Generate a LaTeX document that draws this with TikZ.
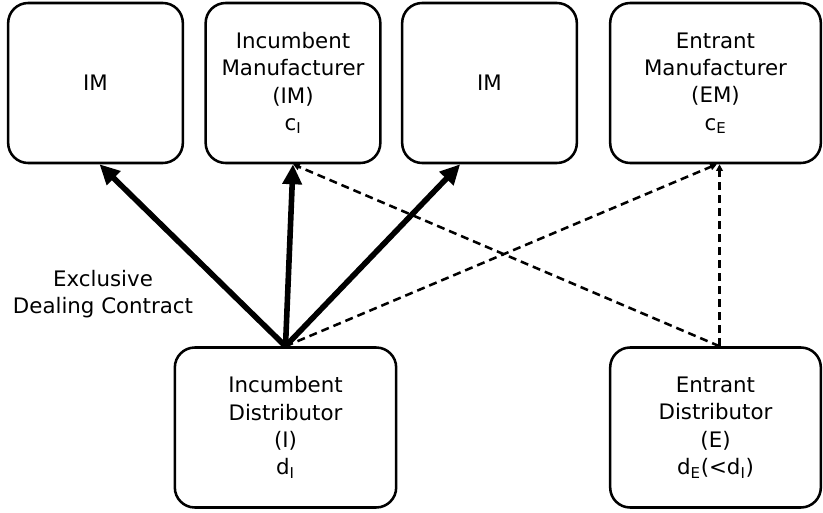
\documentclass[tikz,border=0pt]{standalone}
\usepackage{fontspec}
\setmainfont{DejaVu Sans}
\usetikzlibrary{arrows.meta}

\begin{document}
\begin{tikzpicture}[x=0.75pt,y=-0.75pt,line cap=butt]
	\tikzstyle{firm}=[draw,line width=1.9pt,rounded corners=15pt,minimum height=120pt,align=center,font=\fontsize{16}{20.5}\selectfont,inner sep=0pt];
	\tikzstyle{contract}=[line width=4.2pt,-{Triangle[length=15pt,width=14pt]}];
	\tikzstyle{option}=[line width=1.9pt,dash pattern=on 6pt off 3.75pt,-{Triangle[length=5pt,width=5pt]}];

	\useasboundingbox (0,0) rectangle (823,513);
	% manufacturers
	\node[firm,minimum width=131pt] (im1) at (95.5,83) {IM};
	\node[firm,minimum width=131pt] (im2) at (293,83) {Incumbent\\Manufacturer\\(IM)\\c\textsubscript{I}};
	\node[firm,minimum width=131pt] (im3) at (489.5,83) {IM};
	\node[firm,minimum width=158pt] (em)  at (715.5,83) {Entrant\\Manufacturer\\(EM)\\c\textsubscript{E}};
	% distributors
	\node[firm,minimum width=166pt] (id) at (285.5,427.5) {Incumbent\\Distributor\\(I)\\d\textsubscript{I}};
	\node[firm,minimum width=158pt] (ed) at (715.5,427.5) {Entrant\\Distributor\\(E)\\d\textsubscript{E}(<d\textsubscript{I})};

	\draw[contract] (id.north) -- ([xshift=3pt]im1.south);
	\draw[contract] (id.north) -- (im2.south);
	\draw[contract] (id.north) -- ([xshift=-22pt]im3.south);
	\draw[option] (id.north) -- ([xshift=1pt]em.south);
	\draw[option] ([xshift=3pt]ed.north) -- (im2.south);
	\draw[option] ([xshift=3pt]ed.north) -- ([xshift=3pt]em.south);

	\node[align=center,font=\fontsize{16}{20.5}\selectfont] (label) at (103,294) {Exclusive\\Dealing Contract};
\end{tikzpicture}
\end{document}
